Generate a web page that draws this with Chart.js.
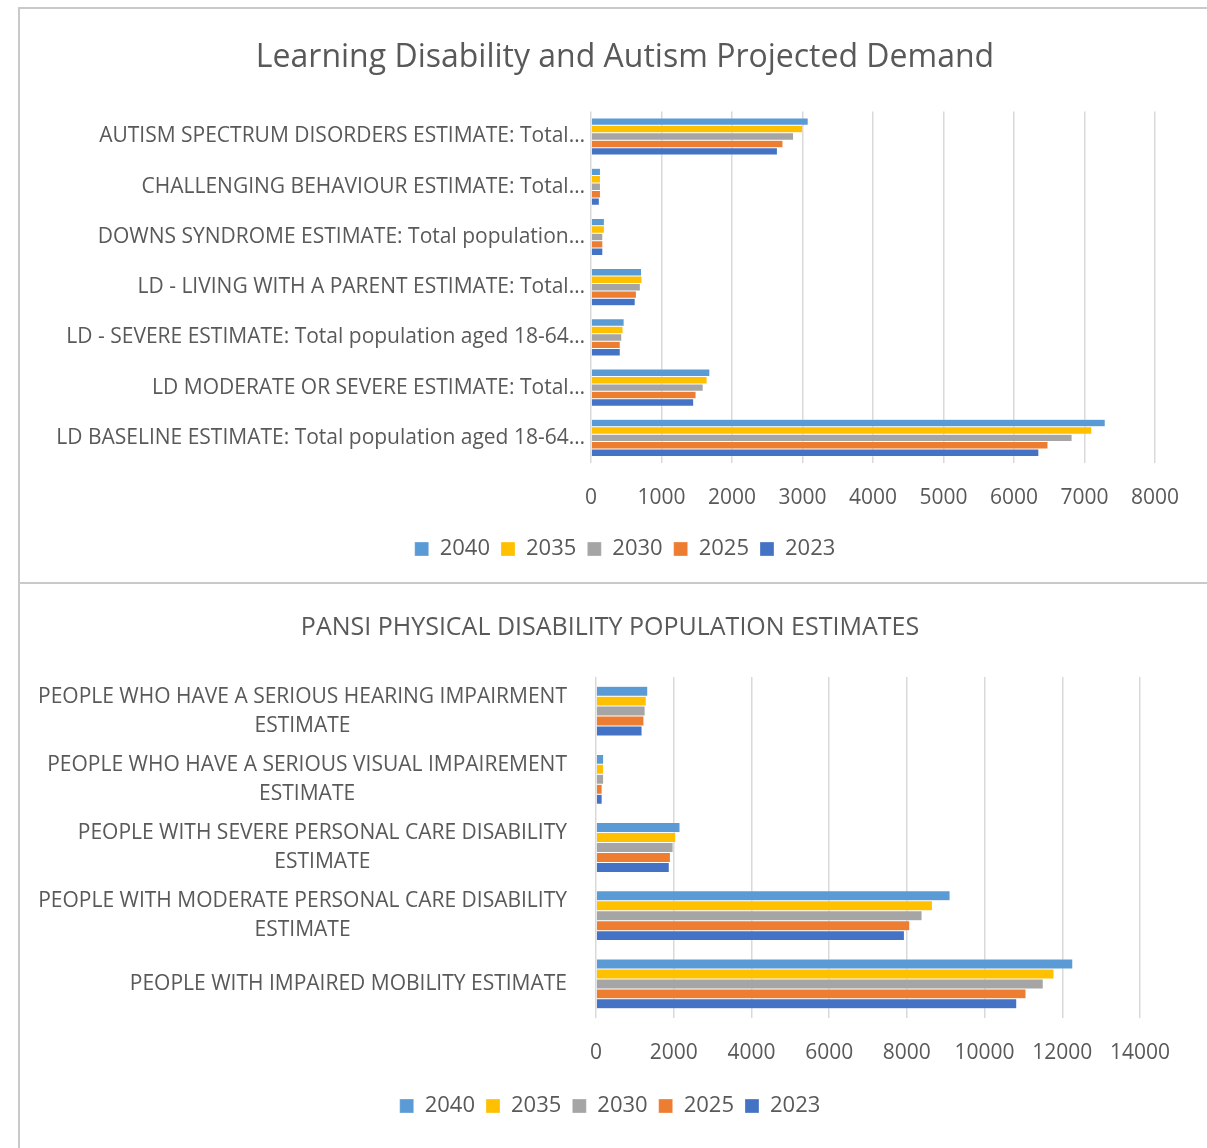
<!DOCTYPE html>
<html>
<head>
<meta charset="utf-8">
<script src="https://cdn.jsdelivr.net/npm/chart.js@4"></script>
<style>
  body { margin: 0; background: #fff; width: 1207px; height: 1148px; overflow: hidden; position: relative; }
  .box { position: absolute; left: 18px; border-left: 2px solid #c9c9c9; border-top: 2px solid #c9c9c9; background: #fff; }
  #boxTop { top: 7px; width: 1210px; height: 574px; }
  #boxBottom { top: 582px; width: 1200px; height: 566px; }
</style>
</head>
<body>
<div class="box" id="boxTop"><canvas id="ldChart" width="1210" height="574"></canvas></div>
<div class="box" id="boxBottom"><canvas id="pdChart" width="1180" height="566"></canvas></div>
<script>
const years = ["2040", "2035", "2030", "2025", "2023"];
const yearColors = ["#5B9BD5", "#FFC000", "#A5A5A5", "#ED7D31", "#4472C4"];

const ldCategories = [
    "AUTISM SPECTRUM DISORDERS ESTIMATE: Total…",
    "CHALLENGING BEHAVIOUR ESTIMATE: Total…",
    "DOWNS SYNDROME ESTIMATE: Total population…",
    "LD - LIVING WITH A PARENT ESTIMATE: Total…",
    "LD - SEVERE ESTIMATE: Total population aged 18-64…",
    "LD MODERATE OR SEVERE ESTIMATE: Total…",
    "LD BASELINE ESTIMATE: Total population aged 18-64…"
];
const ld2040 = [3081, 134, 190, 717, 470, 1686, 7294];
const ld2035 = [3003, 134, 190, 723, 454, 1647, 7104];
const ld2030 = [2874, 134, 168, 700, 437, 1591, 6824];
const ld2025 = [2723, 134, 168, 644, 415, 1490, 6482];
const ld2023 = [2644, 118, 168, 627, 415, 1457, 6353];

const pdCategories = [
    ["PEOPLE WHO HAVE A SERIOUS HEARING IMPAIRMENT", "ESTIMATE"],
    ["PEOPLE WHO HAVE A SERIOUS VISUAL IMPAIREMENT", "ESTIMATE"],
    ["PEOPLE WITH SEVERE PERSONAL CARE DISABILITY", "ESTIMATE"],
    ["PEOPLE WITH MODERATE PERSONAL CARE DISABILITY", "ESTIMATE"],
    ["PEOPLE WITH IMPAIRED MOBILITY ESTIMATE"]
];
const pd2040 = [1333, 197, 2162, 9112, 12271];
const pd2035 = [1293, 197, 2053, 8658, 11787];
const pd2030 = [1264, 197, 1984, 8391, 11510];
const pd2025 = [1234, 158, 1915, 8075, 11066];
const pd2023 = [1185, 158, 1886, 7937, 10829];

const ldTicks = [0, 1000, 2000, 3000, 4000, 5000, 6000, 7000, 8000];
const pdTicks = [0, 2000, 4000, 6000, 8000, 10000, 12000, 14000];

const textColor = "#595959";
const fontFamily = "'Open Sans', 'Noto Sans', sans-serif";

function makeDatasets(series) {
    return series.map(function(values, i) {
        return {
            label: years[i],
            data: values,
            backgroundColor: yearColors[i],
            borderColor: "rgba(255,255,255,0.6)",
            borderWidth: 0.5,
            categoryPercentage: 0.74,
            barPercentage: 1
        };
    });
}

// spacer axis on the right so title and legend centre over the full Excel chart width
function spacer(w) {
    return {
        type: "linear",
        position: "right",
        display: true,
        grid: { display: false },
        border: { display: false },
        ticks: { display: false },
        afterFit: function(s) { s.width = w; }
    };
}

// centred multi-line category labels like the Excel original
const centredLabels = {
    id: "centredLabels",
    afterDraw(chart) {
        const scale = chart.scales.y;
        const ctx = chart.ctx;
        ctx.save();
        ctx.font = "21px " + fontFamily;
        ctx.fillStyle = textColor;
        ctx.textAlign = "center";
        ctx.textBaseline = "middle";
        const lineH = 29;
        pdCategories.forEach(function(lines, i) {
            const y = scale.getPixelForTick(i);
            let widest = 0;
            lines.forEach(function(l) { widest = Math.max(widest, ctx.measureText(l).width); });
            const cx = scale.right - 29 - widest / 2;
            const top = y - (lines.length - 1) * lineH / 2;
            lines.forEach(function(l, j) { ctx.fillText(l, cx, top + j * lineH); });
        });
        ctx.restore();
    }
};

function legendOpts() {
    return {
        display: true,
        position: "bottom",
        labels: {
            color: textColor,
            font: { family: fontFamily, size: 22 },
            boxWidth: 14,
            boxHeight: 14,
            padding: 11
        }
    };
}

new Chart(document.getElementById("ldChart"), {
    type: "bar",
    data: {
        labels: ldCategories,
        datasets: makeDatasets([ld2040, ld2035, ld2030, ld2025, ld2023])
    },
    options: {
        indexAxis: "y",
        responsive: false,
        animation: false,
        layout: { padding: { left: 0, right: 0, top: 0, bottom: 13 } },
        plugins: {
            title: {
                display: true,
                text: "Learning Disability and Autism Projected Demand",
                color: textColor,
                font: { family: fontFamily, size: 32, weight: "normal" },
                padding: { top: 30, bottom: 34 }
            },
            legend: legendOpts(),
            tooltip: { enabled: false }
        },
        scales: {
            x: {
                min: 0,
                max: 8000,
                afterBuildTicks: function(s) { s.ticks = ldTicks.map(function(v) { return { value: v }; }); },
                afterFit: function(s) { s.height = 64; },
                grid: { color: "#d9d9d9", lineWidth: 1.5, drawTicks: false },
                border: { display: false },
                ticks: { color: textColor, font: { family: fontFamily, size: 21 }, padding: 22,
                         callback: function(v) { return String(v); } }
            },
            y: {
                afterFit: function(s) { s.width = 571; },
                grid: { display: false },
                border: { display: false },
                ticks: { color: textColor, font: { family: fontFamily, size: 21 }, padding: -2, autoSkip: false }
            },
            yR: spacer(75)
        }
    }
});

new Chart(document.getElementById("pdChart"), {
    type: "bar",
    data: {
        labels: pdCategories,
        datasets: makeDatasets([pd2040, pd2035, pd2030, pd2025, pd2023]).map(function(d) {
            d.categoryPercentage = 0.73;
            return d;
        })
    },
    options: {
        indexAxis: "y",
        responsive: false,
        animation: false,
        layout: { padding: { left: 0, right: 0, top: 0, bottom: 23 } },
        plugins: {
            title: {
                display: true,
                text: "PANSI PHYSICAL DISABILITY POPULATION ESTIMATES",
                color: textColor,
                font: { family: fontFamily, size: 25, weight: "normal" },
                padding: { top: 29, bottom: 34 }
            },
            legend: legendOpts(),
            tooltip: { enabled: false }
        },
        scales: {
            x: {
                min: 0,
                max: 14000,
                afterBuildTicks: function(s) { s.ticks = pdTicks.map(function(v) { return { value: v }; }); },
                afterFit: function(s) { s.height = 66; },
                grid: { color: "#d9d9d9", lineWidth: 1.5, drawTicks: false },
                border: { display: false },
                ticks: { color: textColor, font: { family: fontFamily, size: 21 }, padding: 22,
                         callback: function(v) { return String(v); } }
            },
            y: {
                afterFit: function(s) { s.width = 576; },
                grid: { display: false },
                border: { display: false },
                ticks: { color: "rgba(0,0,0,0)", font: { family: fontFamily, size: 21 }, padding: 8, autoSkip: false }
            },
            yR: spacer(60)
        }
    },
    plugins: [centredLabels]
});
</script>
</body>
</html>
